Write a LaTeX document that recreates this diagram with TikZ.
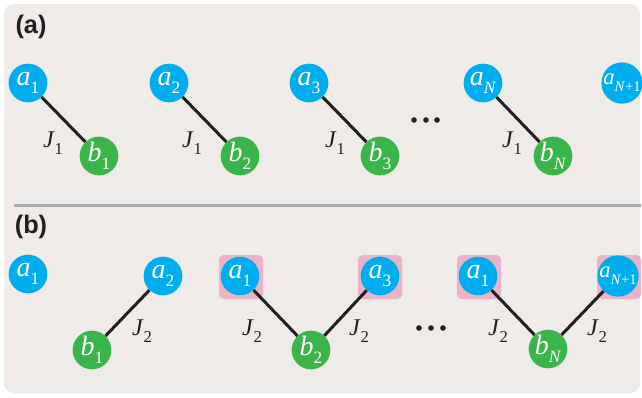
\documentclass[tikz,border=0pt]{standalone}
\usepackage{fontspec}
\setmainfont{Liberation Serif}
\newfontfamily\labelfont{Liberation Sans}

\definecolor{panelbg}{HTML}{EEEBE8}
\definecolor{siteA}{HTML}{00AEEF}
\definecolor{siteB}{HTML}{39B54A}
\definecolor{dimerpink}{HTML}{EBB3C8}
\definecolor{ink}{HTML}{231F20}
\definecolor{divider}{HTML}{A7A9AC}

% subscript size, set by each text style
\def\subsz{12.5}
% label: italic letter with a lowered subscript
\newcommand{\sitelab}[2]{\textit{#1}\raisebox{-0.3em}{\fontsize{\subsz}{\subsz}\selectfont #2}}

\begin{document}
\begin{tikzpicture}[x=0.75pt, y=-0.75pt,
  sitefont/.style={font=\fontsize{21}{21}\selectfont\def\subsz{13}},
  smallsitefont/.style={font=\fontsize{17}{17}\selectfont\def\subsz{11}},
  sitea/.style={circle, fill=siteA, minimum size=29pt, inner sep=0pt,
    text=white, sitefont},
  siteb/.style={circle, fill=siteB, minimum size=29pt, inner sep=0pt,
    text=white, sitefont},
  dimer/.style={fill=dimerpink, rounded corners=3.5pt, minimum size=33pt, inner sep=0pt},
  bond/.style={draw=ink, line width=2.25pt},
  coupling/.style={text=ink, inner sep=0pt,
    font=\fontsize{18}{18}\selectfont\def\subsz{12.5}},
  panellabel/.style={text=ink, inner sep=0pt, font=\labelfont\bfseries\fontsize{19}{19}\selectfont},
  ellipsisdot/.style={fill=ink}
]
\useasboundingbox (0,0) rectangle (642,397);

% panel background and divider
\fill[panelbg, rounded corners=7.5pt] (4,4) rectangle (640,393);
\draw[divider, line width=2.25pt] (14,205) -- (641,205);

\node[panellabel] (lab-a) at (31,27) {(a)};
\node[panellabel] (lab-b) at (31,227) {(b)};

% ---------------- (a) intra-cell dimers ----------------
\node[sitea] (a1) at (28,83) {\sitelab{a}{1}};
\node[siteb] (b1) at (99,156) {\sitelab{b}{1}};
\node[sitea] (a2) at (169,83) {\sitelab{a}{2}};
\node[siteb] (b2) at (240,156) {\sitelab{b}{2}};
\node[sitea] (a3) at (309,83) {\sitelab{a}{3}};
\node[siteb] (b3) at (380,156) {\sitelab{b}{3}};
\node[sitea] (aN) at (483,83) {\sitelab{a}{\textit{N}}};
\node[siteb] (bN) at (553,156) {\sitelab{b}{\textit{N}}};
\node[sitea, smallsitefont] (aN1) at (622,83) {\sitelab{a}{\textit{N}+1}};

\draw[bond] (a1) -- (b1);
\draw[bond] (a2) -- (b2);
\draw[bond] (a3) -- (b3);
\draw[bond] (aN) -- (bN);

\node[coupling] (J1a) at (53,143) {\sitelab{J}{1}};
\node[coupling] (J1b) at (192,143) {\sitelab{J}{1}};
\node[coupling] (J1c) at (335,143) {\sitelab{J}{1}};
\node[coupling] (J1d) at (512,143) {\sitelab{J}{1}};

\foreach \x in {414,426,437} \fill[ellipsisdot] (\x,120) circle (2.1pt);

% ---------------- (b) inter-cell dimers ----------------
\node[dimer] (p1) at (241,277) {};
\node[dimer] (p2) at (380,277) {};
\node[dimer] (p3) at (479,277) {};
\node[dimer] (p4) at (619,277) {};

\node[sitea] (c1) at (28,274) {\sitelab{a}{1}};
\node[siteb] (d1) at (92,350) {\sitelab{b}{1}};
\node[sitea] (c2) at (163,276) {\sitelab{a}{2}};
\node[sitea] (e1) at (240,276) {\sitelab{a}{1}};
\node[siteb] (d2) at (311,350) {\sitelab{b}{2}};
\node[sitea] (c3) at (380,276) {\sitelab{a}{3}};
\node[sitea] (f1) at (478,276) {\sitelab{a}{1}};
\node[siteb] (dN) at (548,349) {\sitelab{b}{\textit{N}}};
\node[sitea, smallsitefont] (cN1) at (618,276) {\sitelab{a}{\textit{N}+1}};

\draw[bond] (d1) -- (c2);
\draw[bond] (e1) -- (d2);
\draw[bond] (d2) -- (c3);
\draw[bond] (f1) -- (dN);
\draw[bond] (dN) -- (cN1);

\node[coupling] (J2a) at (142,331) {\sitelab{J}{2}};
\node[coupling] (J2b) at (252,331) {\sitelab{J}{2}};
\node[coupling] (J2c) at (359,331) {\sitelab{J}{2}};
\node[coupling] (J2d) at (498,331) {\sitelab{J}{2}};
\node[coupling] (J2e) at (597,331) {\sitelab{J}{2}};

\foreach \x in {419,431,443} \fill[ellipsisdot] (\x,328) circle (2.1pt);
\end{tikzpicture}
\end{document}
